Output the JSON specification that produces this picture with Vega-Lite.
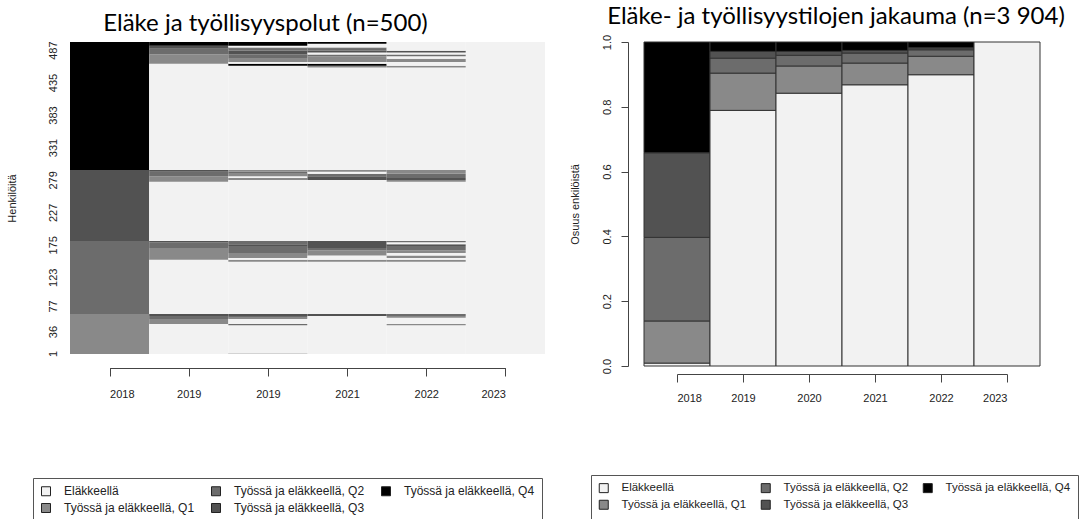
{
  "$schema": "https://vega.github.io/schema/vega-lite/v6.json",
  "padding": {"left": 6, "top": 5, "right": 0, "bottom": 0},
  "background": "white",
  "config": {
    "view": {"stroke": null},
    "font": "Liberation Sans",
    "axis": {"labelFont": "Liberation Sans", "labelFontSize": 11, "labelColor": "#222", "titleFont": "Liberation Sans", "titleFontSize": 11, "titleFontWeight": "normal", "titleColor": "#222", "domainColor": "#444", "tickColor": "#444", "grid": false},
    "title": {"font": "Lato", "fontSize": 24, "fontWeight": "normal", "color": "#000"}
  },
  "datasets": {
    "years": [{"year": 2018}, {"year": 2019}, {"year": 2020}, {"year": 2021}, {"year": 2022}, {"year": 2023}],
    "shares": [
      {"year": "2018", "state": "Eläkkeellä", "share": 0.009},
      {"year": "2018", "state": "Työssä ja eläkkeellä, Q1", "share": 0.130},
      {"year": "2018", "state": "Työssä ja eläkkeellä, Q2", "share": 0.258},
      {"year": "2018", "state": "Työssä ja eläkkeellä, Q3", "share": 0.261},
      {"year": "2018", "state": "Työssä ja eläkkeellä, Q4", "share": 0.342},
      {"year": "2019", "state": "Eläkkeellä", "share": 0.789},
      {"year": "2019", "state": "Työssä ja eläkkeellä, Q1", "share": 0.115},
      {"year": "2019", "state": "Työssä ja eläkkeellä, Q2", "share": 0.046},
      {"year": "2019", "state": "Työssä ja eläkkeellä, Q3", "share": 0.021},
      {"year": "2019", "state": "Työssä ja eläkkeellä, Q4", "share": 0.029},
      {"year": "2020", "state": "Eläkkeellä", "share": 0.842},
      {"year": "2020", "state": "Työssä ja eläkkeellä, Q1", "share": 0.084},
      {"year": "2020", "state": "Työssä ja eläkkeellä, Q2", "share": 0.033},
      {"year": "2020", "state": "Työssä ja eläkkeellä, Q3", "share": 0.012},
      {"year": "2020", "state": "Työssä ja eläkkeellä, Q4", "share": 0.029},
      {"year": "2021", "state": "Eläkkeellä", "share": 0.868},
      {"year": "2021", "state": "Työssä ja eläkkeellä, Q1", "share": 0.067},
      {"year": "2021", "state": "Työssä ja eläkkeellä, Q2", "share": 0.031},
      {"year": "2021", "state": "Työssä ja eläkkeellä, Q3", "share": 0.008},
      {"year": "2021", "state": "Työssä ja eläkkeellä, Q4", "share": 0.026},
      {"year": "2022", "state": "Eläkkeellä", "share": 0.899},
      {"year": "2022", "state": "Työssä ja eläkkeellä, Q1", "share": 0.057},
      {"year": "2022", "state": "Työssä ja eläkkeellä, Q2", "share": 0.020},
      {"year": "2022", "state": "Työssä ja eläkkeellä, Q3", "share": 0.006},
      {"year": "2022", "state": "Työssä ja eläkkeellä, Q4", "share": 0.018},
      {"year": "2023", "state": "Eläkkeellä", "share": 1.0}
    ],
    "paths": [
      {"period": "2018", "from": 0, "to": 64, "state": "Työssä ja eläkkeellä, Q1"},
      {"period": "2018", "from": 64, "to": 181, "state": "Työssä ja eläkkeellä, Q2"},
      {"period": "2018", "from": 181, "to": 295, "state": "Työssä ja eläkkeellä, Q3"},
      {"period": "2018", "from": 295, "to": 500, "state": "Työssä ja eläkkeellä, Q4"},

      {"period": "2019", "from": 0, "to": 48, "state": "Eläkkeellä"},
      {"period": "2019", "from": 48, "to": 56, "state": "Työssä ja eläkkeellä, Q1"},
      {"period": "2019", "from": 56, "to": 61, "state": "Työssä ja eläkkeellä, Q2"},
      {"period": "2019", "from": 61, "to": 64, "state": "Työssä ja eläkkeellä, Q3"},
      {"period": "2019", "from": 64, "to": 151, "state": "Eläkkeellä"},
      {"period": "2019", "from": 151, "to": 170, "state": "Työssä ja eläkkeellä, Q1"},
      {"period": "2019", "from": 170, "to": 179, "state": "Työssä ja eläkkeellä, Q2"},
      {"period": "2019", "from": 179, "to": 181, "state": "Työssä ja eläkkeellä, Q3"},
      {"period": "2019", "from": 181, "to": 276, "state": "Eläkkeellä"},
      {"period": "2019", "from": 276, "to": 285, "state": "Työssä ja eläkkeellä, Q1"},
      {"period": "2019", "from": 285, "to": 292, "state": "Työssä ja eläkkeellä, Q2"},
      {"period": "2019", "from": 292, "to": 295, "state": "Työssä ja eläkkeellä, Q3"},
      {"period": "2019", "from": 295, "to": 465, "state": "Eläkkeellä"},
      {"period": "2019", "from": 465, "to": 480, "state": "Työssä ja eläkkeellä, Q1"},
      {"period": "2019", "from": 480, "to": 489, "state": "Työssä ja eläkkeellä, Q2"},
      {"period": "2019", "from": 489, "to": 494, "state": "Työssä ja eläkkeellä, Q3"},
      {"period": "2019", "from": 494, "to": 500, "state": "Työssä ja eläkkeellä, Q4"},

      {"period": "2020", "from": 0, "to": 1, "state": "Työssä ja eläkkeellä, Q2"},
      {"period": "2020", "from": 1, "to": 46, "state": "Eläkkeellä"},
      {"period": "2020", "from": 46, "to": 48, "state": "Työssä ja eläkkeellä, Q2"},
      {"period": "2020", "from": 48, "to": 56, "state": "Eläkkeellä"},
      {"period": "2020", "from": 56, "to": 58, "state": "Työssä ja eläkkeellä, Q1"},
      {"period": "2020", "from": 58, "to": 61, "state": "Työssä ja eläkkeellä, Q2"},
      {"period": "2020", "from": 61, "to": 64, "state": "Työssä ja eläkkeellä, Q3"},
      {"period": "2020", "from": 64, "to": 148, "state": "Eläkkeellä"},
      {"period": "2020", "from": 148, "to": 151, "state": "Työssä ja eläkkeellä, Q1"},
      {"period": "2020", "from": 151, "to": 154, "state": "Eläkkeellä"},
      {"period": "2020", "from": 154, "to": 162, "state": "Työssä ja eläkkeellä, Q1"},
      {"period": "2020", "from": 162, "to": 173, "state": "Työssä ja eläkkeellä, Q2"},
      {"period": "2020", "from": 173, "to": 176, "state": "Työssä ja eläkkeellä, Q3"},
      {"period": "2020", "from": 176, "to": 181, "state": "Työssä ja eläkkeellä, Q2"},
      {"period": "2020", "from": 181, "to": 279, "state": "Eläkkeellä"},
      {"period": "2020", "from": 279, "to": 282, "state": "Työssä ja eläkkeellä, Q1"},
      {"period": "2020", "from": 282, "to": 285, "state": "Eläkkeellä"},
      {"period": "2020", "from": 285, "to": 289, "state": "Työssä ja eläkkeellä, Q1"},
      {"period": "2020", "from": 289, "to": 292, "state": "Työssä ja eläkkeellä, Q2"},
      {"period": "2020", "from": 292, "to": 295, "state": "Työssä ja eläkkeellä, Q1"},
      {"period": "2020", "from": 295, "to": 462, "state": "Eläkkeellä"},
      {"period": "2020", "from": 462, "to": 465, "state": "Työssä ja eläkkeellä, Q4"},
      {"period": "2020", "from": 465, "to": 468, "state": "Eläkkeellä"},
      {"period": "2020", "from": 468, "to": 473, "state": "Työssä ja eläkkeellä, Q1"},
      {"period": "2020", "from": 473, "to": 480, "state": "Työssä ja eläkkeellä, Q2"},
      {"period": "2020", "from": 480, "to": 486, "state": "Työssä ja eläkkeellä, Q3"},
      {"period": "2020", "from": 486, "to": 489, "state": "Työssä ja eläkkeellä, Q2"},
      {"period": "2020", "from": 489, "to": 491, "state": "Työssä ja eläkkeellä, Q3"},
      {"period": "2020", "from": 491, "to": 494, "state": "Eläkkeellä"},
      {"period": "2020", "from": 494, "to": 500, "state": "Työssä ja eläkkeellä, Q4"},

      {"period": "2021", "from": 0, "to": 61, "state": "Eläkkeellä"},
      {"period": "2021", "from": 61, "to": 64, "state": "Työssä ja eläkkeellä, Q3"},
      {"period": "2021", "from": 64, "to": 148, "state": "Eläkkeellä"},
      {"period": "2021", "from": 148, "to": 151, "state": "Työssä ja eläkkeellä, Q1"},
      {"period": "2021", "from": 151, "to": 158, "state": "Eläkkeellä"},
      {"period": "2021", "from": 158, "to": 166, "state": "Työssä ja eläkkeellä, Q1"},
      {"period": "2021", "from": 166, "to": 170, "state": "Työssä ja eläkkeellä, Q2"},
      {"period": "2021", "from": 170, "to": 181, "state": "Työssä ja eläkkeellä, Q3"},
      {"period": "2021", "from": 181, "to": 279, "state": "Eläkkeellä"},
      {"period": "2021", "from": 279, "to": 285, "state": "Työssä ja eläkkeellä, Q3"},
      {"period": "2021", "from": 285, "to": 289, "state": "Työssä ja eläkkeellä, Q2"},
      {"period": "2021", "from": 289, "to": 292, "state": "Eläkkeellä"},
      {"period": "2021", "from": 292, "to": 295, "state": "Työssä ja eläkkeellä, Q1"},
      {"period": "2021", "from": 295, "to": 459, "state": "Eläkkeellä"},
      {"period": "2021", "from": 459, "to": 462, "state": "Työssä ja eläkkeellä, Q1"},
      {"period": "2021", "from": 462, "to": 465, "state": "Työssä ja eläkkeellä, Q4"},
      {"period": "2021", "from": 465, "to": 468, "state": "Eläkkeellä"},
      {"period": "2021", "from": 468, "to": 477, "state": "Työssä ja eläkkeellä, Q1"},
      {"period": "2021", "from": 477, "to": 480, "state": "Työssä ja eläkkeellä, Q2"},
      {"period": "2021", "from": 480, "to": 483, "state": "Eläkkeellä"},
      {"period": "2021", "from": 483, "to": 486, "state": "Työssä ja eläkkeellä, Q3"},
      {"period": "2021", "from": 486, "to": 489, "state": "Työssä ja eläkkeellä, Q2"},
      {"period": "2021", "from": 489, "to": 491, "state": "Työssä ja eläkkeellä, Q3"},
      {"period": "2021", "from": 491, "to": 497, "state": "Eläkkeellä"},
      {"period": "2021", "from": 497, "to": 500, "state": "Työssä ja eläkkeellä, Q4"},

      {"period": "2022", "from": 0, "to": 46, "state": "Eläkkeellä"},
      {"period": "2022", "from": 46, "to": 48, "state": "Työssä ja eläkkeellä, Q1"},
      {"period": "2022", "from": 48, "to": 58, "state": "Eläkkeellä"},
      {"period": "2022", "from": 58, "to": 61, "state": "Työssä ja eläkkeellä, Q1"},
      {"period": "2022", "from": 61, "to": 64, "state": "Työssä ja eläkkeellä, Q2"},
      {"period": "2022", "from": 64, "to": 148, "state": "Eläkkeellä"},
      {"period": "2022", "from": 148, "to": 151, "state": "Työssä ja eläkkeellä, Q1"},
      {"period": "2022", "from": 151, "to": 154, "state": "Eläkkeellä"},
      {"period": "2022", "from": 154, "to": 158, "state": "Työssä ja eläkkeellä, Q1"},
      {"period": "2022", "from": 158, "to": 162, "state": "Eläkkeellä"},
      {"period": "2022", "from": 162, "to": 166, "state": "Työssä ja eläkkeellä, Q1"},
      {"period": "2022", "from": 166, "to": 173, "state": "Työssä ja eläkkeellä, Q2"},
      {"period": "2022", "from": 173, "to": 176, "state": "Työssä ja eläkkeellä, Q3"},
      {"period": "2022", "from": 176, "to": 179, "state": "Eläkkeellä"},
      {"period": "2022", "from": 179, "to": 181, "state": "Työssä ja eläkkeellä, Q2"},
      {"period": "2022", "from": 181, "to": 276, "state": "Eläkkeellä"},
      {"period": "2022", "from": 276, "to": 279, "state": "Työssä ja eläkkeellä, Q1"},
      {"period": "2022", "from": 279, "to": 282, "state": "Työssä ja eläkkeellä, Q3"},
      {"period": "2022", "from": 282, "to": 289, "state": "Työssä ja eläkkeellä, Q2"},
      {"period": "2022", "from": 289, "to": 295, "state": "Työssä ja eläkkeellä, Q1"},
      {"period": "2022", "from": 295, "to": 459, "state": "Eläkkeellä"},
      {"period": "2022", "from": 459, "to": 462, "state": "Työssä ja eläkkeellä, Q1"},
      {"period": "2022", "from": 462, "to": 468, "state": "Eläkkeellä"},
      {"period": "2022", "from": 468, "to": 473, "state": "Työssä ja eläkkeellä, Q1"},
      {"period": "2022", "from": 473, "to": 477, "state": "Eläkkeellä"},
      {"period": "2022", "from": 477, "to": 480, "state": "Työssä ja eläkkeellä, Q2"},
      {"period": "2022", "from": 480, "to": 483, "state": "Eläkkeellä"},
      {"period": "2022", "from": 483, "to": 486, "state": "Työssä ja eläkkeellä, Q3"},
      {"period": "2022", "from": 486, "to": 500, "state": "Eläkkeellä"},

      {"period": "2023", "from": 0, "to": 500, "state": "Eläkkeellä"}
    ]
  },
  "spacing": 23,
  "hconcat": [
    {
      "width": 475,
      "height": 312,
      "title": {"text": "Eläke ja työllisyyspolut (n=500)", "anchor": "middle", "frame": "group", "dx": -42, "offset": 5},
      "layer": [
        {
          "data": {"name": "paths"},
          "mark": {"type": "rect"},
          "encoding": {
            "x": {"field": "period", "type": "ordinal", "scale": {"paddingInner": 0, "paddingOuter": 0}, "axis": null},
            "y": {"field": "from", "type": "quantitative", "scale": {"domain": [0, 500], "nice": false, "zero": false},
                  "axis": {"title": "Henkilöitä", "values": [1, 36, 77, 123, 175, 227, 279, 331, 383, 435, 487], "ticks": false, "tickSize": 0, "domain": false, "labelAngle": -90, "labelAlign": "center", "labelBaseline": "bottom", "labelPadding": 12, "titlePadding": 30, "labelOverlap": false}},
            "y2": {"field": "to"},
            "color": {
              "field": "state", "type": "nominal",
              "scale": {"domain": ["Eläkkeellä", "Työssä ja eläkkeellä, Q1", "Työssä ja eläkkeellä, Q2", "Työssä ja eläkkeellä, Q3", "Työssä ja eläkkeellä, Q4"],
                        "range": ["#f2f2f2", "#898989", "#6c6c6c", "#525252", "#000000"]},
              "legend": {"orient": "none", "legendX": -37, "legendY": 436, "columns": 3, "title": null, "symbolType": "square", "symbolSize": 81, "symbolStrokeColor": "#222", "symbolStrokeWidth": 1, "labelFont": "Liberation Sans", "labelFontSize": 12, "labelColor": "#222", "labelOffset": 12, "labelLimit": 300, "strokeColor": "#555", "padding": 7, "rowPadding": 3, "columnPadding": 14}
            }
          }
        },
        {
          "data": {"name": "years"},
          "mark": {"type": "point", "opacity": 0},
          "encoding": {
            "x": {"field": "year", "type": "quantitative", "scale": {"domain": [2018, 2023], "range": [39.58, 435.42], "nice": false, "zero": false},
                  "axis": {"title": null, "orient": "bottom", "values": [2018, 2019, 2020, 2021, 2022, 2023], "format": "d", "labelExpr": "datum.value == 2020 ? '2019' : datum.label", "offset": 14, "tickSize": 8, "labelPadding": 12}}
          }
        }
      ],
      "resolve": {"scale": {"x": "independent"}, "axis": {"x": "independent"}}
    },
    {
      "width": 396,
      "height": 324,
      "title": {"text": "Eläke- ja työllisyystilojen jakauma (n=3 904)", "anchor": "middle", "frame": "group", "dx": -6, "offset": 5},
      "layer": [
        {
          "data": {"name": "shares"},
          "mark": {"type": "bar", "stroke": "#333", "strokeWidth": 1},
          "encoding": {
            "x": {"field": "year", "type": "ordinal", "scale": {"paddingInner": 0, "paddingOuter": 0}, "axis": null},
            "y": {"field": "share", "type": "quantitative", "stack": "zero", "scale": {"domain": [0, 1], "nice": false},
                  "axis": {"title": "Osuus enkilöistä", "values": [0, 0.2, 0.4, 0.6, 0.8, 1], "format": ".1f", "labelAngle": -90, "labelAlign": "center", "labelBaseline": "bottom", "tickSize": 7, "offset": 16, "labelPadding": 9, "titlePadding": 21, "labelOverlap": false}},
            "color": {
              "field": "state", "type": "nominal",
              "scale": {"domain": ["Eläkkeellä", "Työssä ja eläkkeellä, Q1", "Työssä ja eläkkeellä, Q2", "Työssä ja eläkkeellä, Q3", "Työssä ja eläkkeellä, Q4"],
                        "range": ["#f2f2f2", "#898989", "#6c6c6c", "#525252", "#000000"]},
              "legend": {"orient": "none", "legendX": -53, "legendY": 433, "columns": 3, "title": null, "symbolType": "square", "symbolSize": 81, "symbolStrokeColor": "#222", "symbolStrokeWidth": 1, "labelFont": "Liberation Sans", "labelFontSize": 11.5, "labelColor": "#222", "labelOffset": 12, "labelLimit": 300, "strokeColor": "#555", "padding": 7, "rowPadding": 3, "columnPadding": 12}
            },
            "order": {"field": "state", "sort": "ascending"}
          }
        },
        {
          "data": {"name": "years"},
          "mark": {"type": "point", "opacity": 0},
          "encoding": {
            "x": {"field": "year", "type": "quantitative", "scale": {"domain": [2018, 2023], "range": [33, 363], "nice": false, "zero": false},
                  "axis": {"title": null, "orient": "bottom", "values": [2018, 2019, 2020, 2021, 2022, 2023], "format": "d", "offset": 8, "tickSize": 8, "labelPadding": 10}}
          }
        }
      ],
      "resolve": {"scale": {"x": "independent"}, "axis": {"x": "independent"}}
    }
  ],
  "resolve": {"scale": {"color": "independent"}, "legend": {"color": "independent"}}
}
